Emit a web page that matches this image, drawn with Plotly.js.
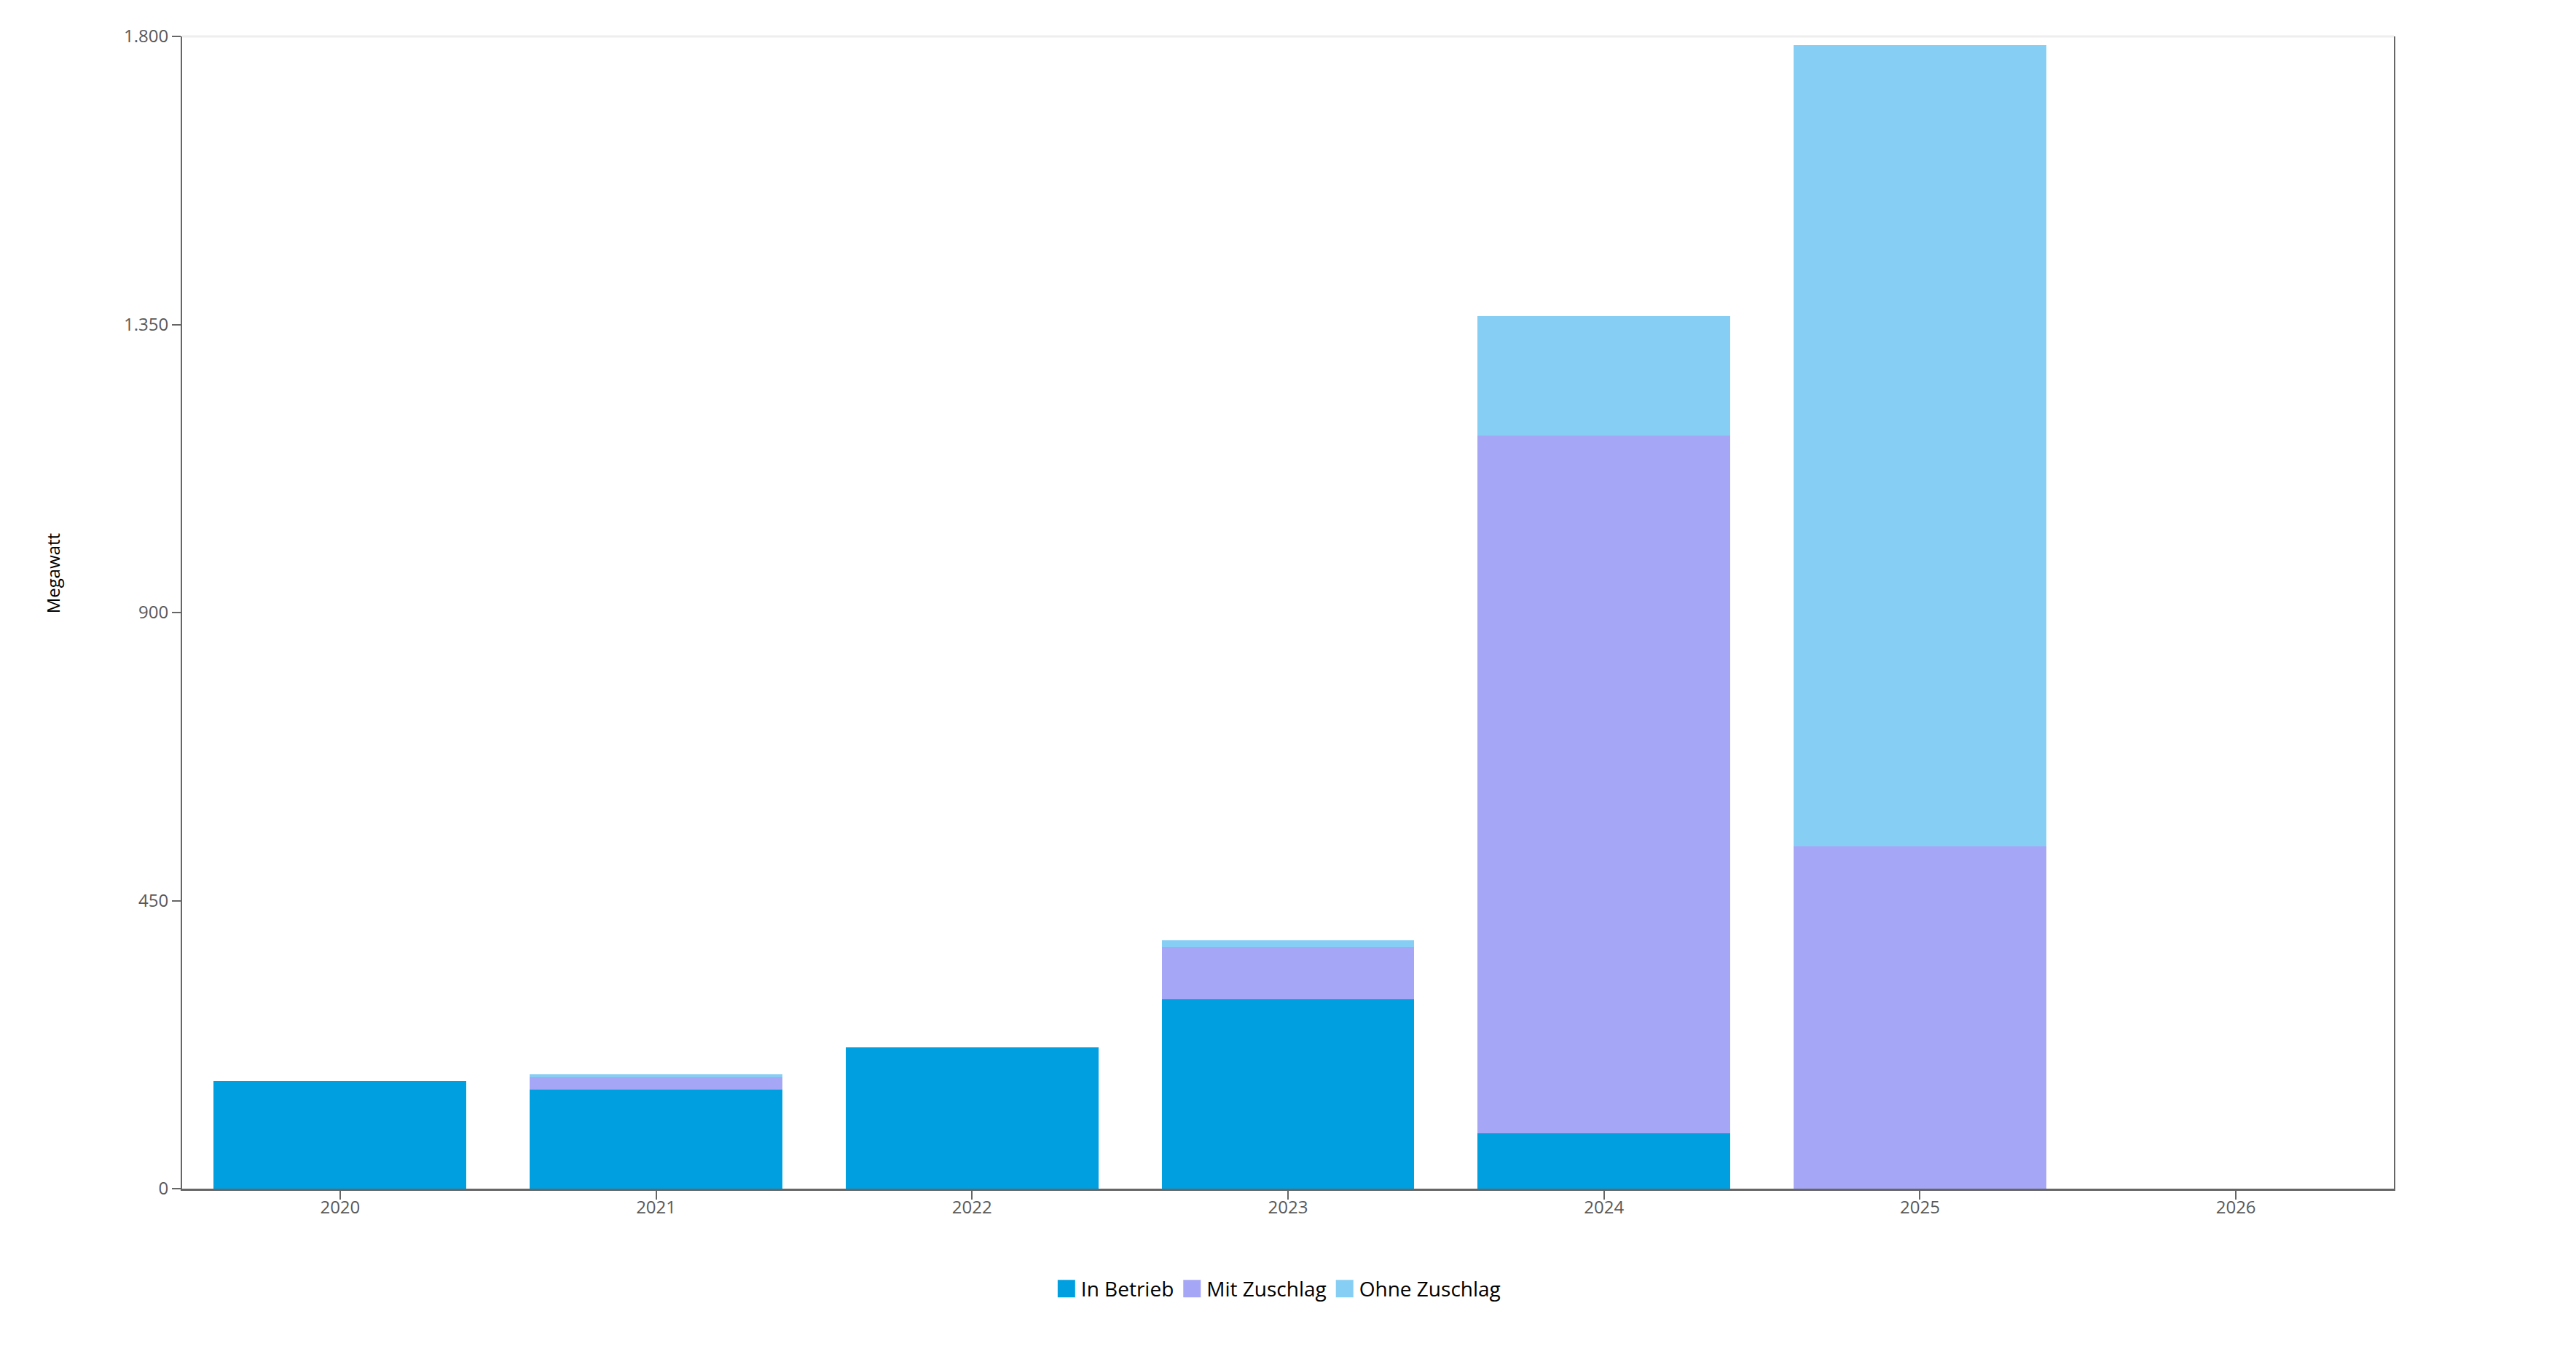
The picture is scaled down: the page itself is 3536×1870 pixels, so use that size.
<!DOCTYPE html>
<html>
<head>
<meta charset="utf-8">
<script src="https://cdn.plot.ly/plotly-3.0.1.min.js"></script>
<style>
  html, body { margin: 0; padding: 0; background: #fff; }
  #chart { width: 3536px; height: 1870px; }
</style>
</head>
<body>
<div id="chart"></div>
<script>
// data (Megawatt)
var years = ['2020', '2021', '2022', '2023', '2024', '2025', '2026']
var inBetrieb = [168, 155, 221, 296, 87, 0, 0]
var mitZuschlag = [0, 19, 0, 82, 1090, 535, 0]
var ohneZuschlag = [0, 5, 0, 10, 186, 1251, 0]
var yTicks = [0, 450, 900, 1350, 1800]

//setting
var fontFamily = 'Open Sans, Noto Sans, sans-serif'
var tickColor = '#595959'
var axisColor = '#666666'

var data = [
    {
        type: 'bar',
        name: 'In Betrieb',
        x: years,
        y: inBetrieb,
        marker: { color: '#009FE0', line: { width: 0 } },
    },
    {
        type: 'bar',
        name: 'Mit Zuschlag',
        x: years,
        y: mitZuschlag,
        marker: { color: '#A6A6F7', line: { width: 0 } },
    },
    {
        type: 'bar',
        name: 'Ohne Zuschlag',
        x: years,
        y: ohneZuschlag,
        marker: { color: '#87CEF5', line: { width: 0 } },
    },
]

var layout = {
    width: 3536,
    height: 1870,
    barmode: 'stack',
    bargap: 0.2,
    separators: ',.',
    paper_bgcolor: '#ffffff',
    plot_bgcolor: '#ffffff',
    font: { family: fontFamily, size: 24, color: tickColor },
    margin: { l: 250, r: 250, t: 50, b: 238 },
    hovermode: false,
    xaxis: {
        type: 'category',
        range: [-0.5, 6.5],
        showline: true,
        linecolor: axisColor,
        linewidth: 3,
        ticks: 'outside',
        ticklen: 12,
        tickwidth: 2,
        tickcolor: axisColor,
        ticklabelstandoff: -10,
        showgrid: false,
        zeroline: false,
        tickfont: { size: 24, color: tickColor },
    },
    yaxis: {
        range: [0, 1800],
        tickvals: yTicks,
        tickformat: ',d',
        showline: true,
        mirror: true,
        linecolor: axisColor,
        linewidth: 2,
        ticks: 'outside',
        ticklen: 12,
        tickwidth: 2,
        tickcolor: axisColor,
        showgrid: false,
        zeroline: false,
        tickfont: { size: 24, color: tickColor },
    },
    shapes: [
        // faint line on top of the plot
        {
            type: 'line', xref: 'paper', yref: 'paper',
            x0: 0, x1: 1, y0: 1, y1: 1,
            line: { color: '#eeeeee', width: 3 },
        },
    ],
    annotations: [
        {
            text: 'Megawatt',
            xref: 'paper', yref: 'paper',
            x: -0.0586, y: 0.534,
            xanchor: 'center', yanchor: 'middle',
            textangle: -90,
            showarrow: false,
            font: { family: fontFamily, size: 24, color: '#000000' },
        },
    ],
    showlegend: true,
    legend: {
        orientation: 'h',
        x: 0.4955, xanchor: 'center',
        y: -0.087, yanchor: 'middle',
        font: { family: fontFamily, size: 28, color: '#000000' },
        itemwidth: 30,
        traceorder: 'normal',
    },
}

Plotly.newPlot('chart', data, layout, { displayModeBar: false, staticPlot: true }).then(function (gd) {
    // bigger square legend symbols like the original
    var pts = gd.querySelectorAll('.legend .legendpoints path')
    pts.forEach(function (p) {
        var t = p.getAttribute('transform') || ''
        p.setAttribute('transform', t + ' scale(2)')
    })
})
</script>
</body>
</html>
